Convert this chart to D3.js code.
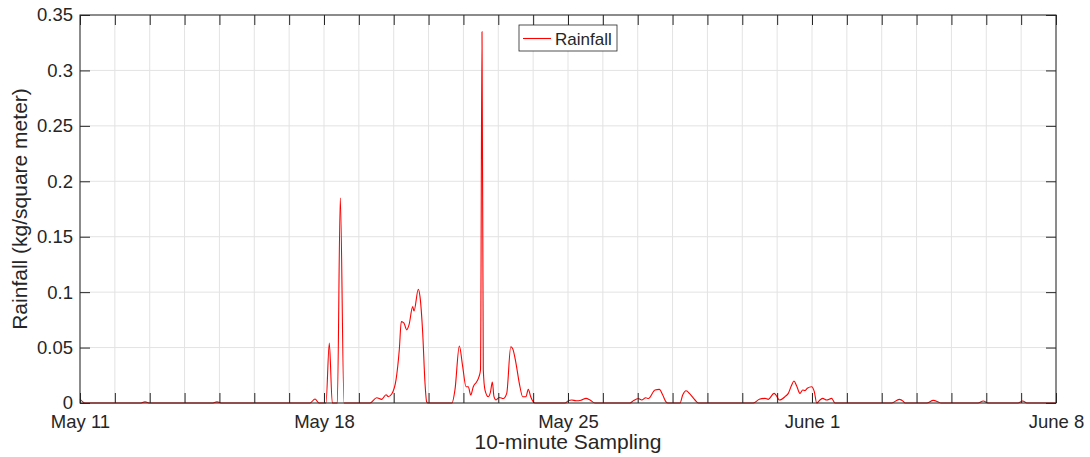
<!DOCTYPE html>
<html>
<head>
<meta charset="utf-8">
<script src="https://cdn.jsdelivr.net/npm/d3@7"></script>
<style>
  body { margin: 0; background: #fff; }
  text { font-family: "Liberation Sans", Arial, sans-serif; fill: #262626; }
</style>
</head>
<body>
<svg id="chart" width="1090" height="457"></svg>
<script>
const dayOffsets = [
  0, 0.143, 1.721, 1.865, 2.008, 3.787, 3.930, 4.074,
  6.598, 6.742, 6.857, 7.057, 7.152, 7.238, 7.382, 7.468, 7.574,
  8.320, 8.512, 8.655, 8.779, 8.845, 8.943, 9.066, 9.160, 9.218, 9.295, 9.373, 9.439,
  9.545, 9.582, 9.706, 9.754, 9.832, 9.898, 9.946, 9.984,
  10.672, 10.758, 10.882, 10.979, 11.074, 11.140, 11.209, 11.283, 11.381, 11.447,
  11.490, 11.533, 11.570, 11.619, 11.714, 11.777, 11.829, 11.877, 11.935, 12.029,
  12.144, 12.242, 12.357, 12.414, 12.508, 12.603, 12.701, 12.795, 12.861, 12.930, 13.005, 13.054,
  13.914, 14.009, 14.107, 14.230, 14.374, 14.517, 14.632, 14.775,
  15.779, 15.874, 16.017, 16.115, 16.230, 16.305, 16.497, 16.620, 16.718, 16.812, 16.870,
  17.214, 17.291, 17.386, 17.501, 17.644, 17.739,
  19.316, 19.488, 19.652, 19.746, 19.910, 19.967, 20.062, 20.225, 20.320, 20.417, 20.483,
  20.561, 20.655, 20.733, 20.799, 20.865, 20.991, 21.066, 21.135, 21.229, 21.307, 21.422,
  21.565, 21.660,
  23.287, 23.505, 23.620, 23.668, 24.290, 24.480, 24.623, 24.701,
  25.762, 25.914, 26.049, 26.910, 27.045, 27.168, 28
];
const rainfall = [
  0.0036, 0, 0, 0.001, 0, 0, 0.001, 0,
  0, 0.0036, 0, 0, 0.054, 0, 0, 0.185, 0,
  0, 0.0048, 0.0033, 0.0075, 0.0057, 0.0081, 0.0208, 0.048, 0.0734, 0.072, 0.066, 0.0704,
  0.087, 0.083, 0.1026, 0.096, 0.063, 0.0178, 0.001, 0,
  0, 0.012, 0.0514, 0.0328, 0.0147, 0.0147, 0.0072, 0.0147, 0.0192, 0.0237,
  0.03, 0.335, 0.03, 0.0117, 0.0057, 0.01, 0.019, 0.0057, 0.0027, 0.005,
  0.004, 0.0087, 0.0508, 0.049, 0.0358, 0.0178, 0.0057, 0.0057, 0.0124, 0.0057, 0.001, 0,
  0, 0.002, 0.0027, 0.002, 0.0025, 0.0042, 0.0027, 0,
  0, 0.002, 0.004, 0.0027, 0.0048, 0.004, 0.0117, 0.0123, 0.0072, 0.001, 0,
  0, 0.0072, 0.011, 0.0081, 0.0027, 0,
  0, 0.0033, 0.0042, 0.0033, 0.0087, 0.0072, 0.0027, 0.0057, 0.0087, 0.0162, 0.0198,
  0.0153, 0.0087, 0.0117, 0.0112, 0.0133, 0.0147, 0.0102, 0, 0.0027, 0.0042, 0.0027,
  0.0042, 0,
  0, 0.0033, 0.0015, 0, 0, 0.0024, 0.001, 0,
  0, 0.0018, 0, 0, 0.0018, 0, 0
];
const yTicks = [0, 0.05, 0.1, 0.15, 0.2, 0.25, 0.3, 0.35];
const xLabelDays = [0, 7, 14, 21, 28];

const startDate = new Date(2019, 4, 11);
const DAY = 86400000;
const data = dayOffsets.map((d, i) => ({ date: new Date(+startDate + d * DAY), value: rainfall[i] }));

const margin = { top: 15, right: 34, bottom: 54, left: 80 };
const width = 1090 - margin.left - margin.right;
const height = 457 - margin.top - margin.bottom;
const TICK = 10;

const svg = d3.select("#chart");
const g = svg.append("g").attr("transform", `translate(${margin.left},${margin.top})`);

const x = d3.scaleTime()
  .domain([startDate, new Date(+startDate + 28 * DAY)])
  .range([0, width]);
const y = d3.scaleLinear().domain([0, 0.35]).range([height, 0]);

const dayTicks = d3.range(0, 29).map(d => new Date(+startDate + d * DAY));
const labelSet = new Set(xLabelDays.map(d => +startDate + d * DAY));

// grid
g.append("g").selectAll("line").data(dayTicks).join("line")
  .attr("x1", d => x(d)).attr("x2", d => x(d))
  .attr("y1", 0).attr("y2", height)
  .attr("stroke", "#e3e3e3").attr("stroke-width", 1);
g.append("g").selectAll("line").data(yTicks).join("line")
  .attr("x1", 0).attr("x2", width)
  .attr("y1", d => y(d)).attr("y2", d => y(d))
  .attr("stroke", "#e3e3e3").attr("stroke-width", 1);

// series
g.append("path")
  .datum(data)
  .attr("fill", "none")
  .attr("stroke", "#ff0000")
  .attr("stroke-width", 1.1)
  .attr("stroke-linejoin", "round")
  .attr("d", d3.line().x(d => x(d.date)).y(d => y(d.value)).curve(d3.curveMonotoneX));

// axes (MATLAB style: inward ticks on all four sides)
const xBottom = g.append("g").attr("transform", `translate(0,${height})`)
  .call(d3.axisBottom(x).tickValues(dayTicks).tickSizeInner(-TICK).tickSizeOuter(0)
    .tickFormat(d => labelSet.has(+d) ? d3.timeFormat("%B %-d")(d) : ""));
const xTop = g.append("g")
  .call(d3.axisTop(x).tickValues(dayTicks).tickSizeInner(-TICK).tickSizeOuter(0).tickFormat(""));
const yLeft = g.append("g")
  .call(d3.axisLeft(y).tickValues(yTicks).tickSizeInner(-TICK).tickSizeOuter(0).tickPadding(7)
    .tickFormat(d => d3.format("")(+d.toFixed(2))));
const yRight = g.append("g").attr("transform", `translate(${width},0)`)
  .call(d3.axisRight(y).tickValues(yTicks).tickSizeInner(-TICK).tickSizeOuter(0).tickFormat(""));

[xBottom, xTop, yLeft, yRight].forEach(a => {
  a.select(".domain").remove();
  a.selectAll(".tick line").attr("stroke", "#262626");
  a.selectAll("text").style("font-size", "18.5px").attr("fill", "#262626");
});
xBottom.selectAll("text").attr("dy", "0.71em").attr("y", 12);

g.append("rect")
  .attr("width", width).attr("height", height)
  .attr("fill", "none").attr("stroke", "#262626").attr("stroke-width", 1);

// labels
svg.append("text")
  .attr("x", margin.left + width / 2).attr("y", 449)
  .attr("text-anchor", "middle").style("font-size", "21px")
  .text("10-minute Sampling");
svg.append("text")
  .attr("transform", `translate(27,${margin.top + height / 2}) rotate(-90)`)
  .attr("text-anchor", "middle").style("font-size", "21px")
  .text("Rainfall (kg/square meter)");

// legend
const legend = svg.append("g").attr("transform", "translate(519,25)");
legend.append("rect").attr("width", 98).attr("height", 26)
  .attr("fill", "#fff").attr("stroke", "#262626").attr("stroke-width", 0.8);
legend.append("line").attr("x1", 4).attr("x2", 32).attr("y1", 13.5).attr("y2", 13.5)
  .attr("stroke", "#ff0000").attr("stroke-width", 1.1);
legend.append("text").attr("x", 36).attr("y", 20).style("font-size", "17px").text("Rainfall");
</script>
</body>
</html>
